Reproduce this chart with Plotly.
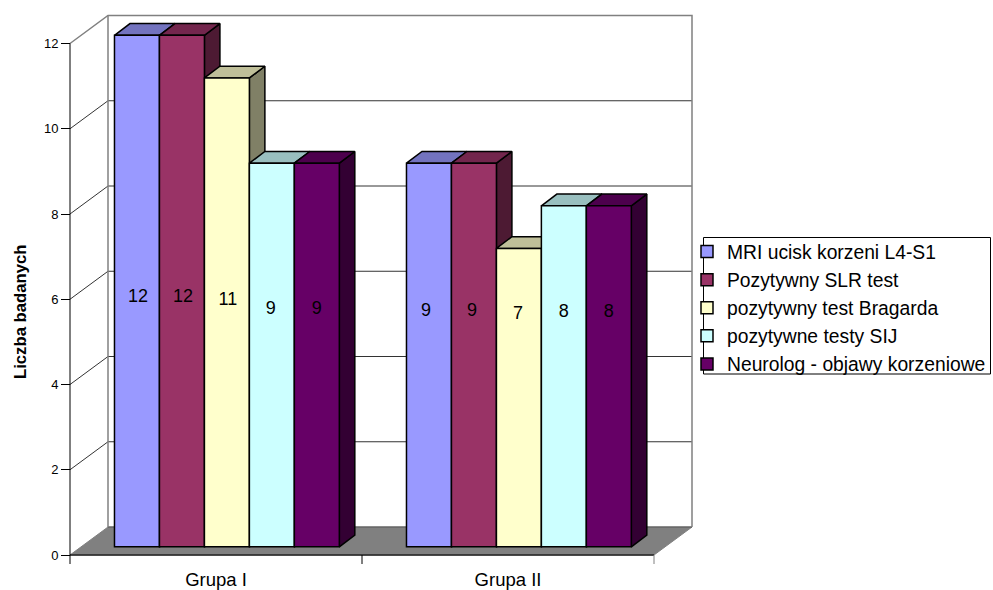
import plotly.graph_objects as go

categories = ["Grupa I", "Grupa II"]
series_names = ["MRI ucisk korzeni L4-S1", "Pozytywny SLR test", "pozytywny test Bragarda",
                "pozytywne testy SIJ", "Neurolog - objawy korzeniowe"]
mri = [12, 9]
slr = [12, 9]
bragard = [11, 7]
sij = [9, 8]
neuro = [9, 8]
y_ticks = [0, 2, 4, 6, 8, 10, 12]

series_values = [mri, slr, bragard, sij, neuro]
front = ["#9999FF", "#993366", "#FFFFCC", "#CCFFFF", "#660066"]
top = ["#7373BF", "#73264D", "#BFBF99", "#99BFBF", "#4D004D"]
side = ["#4D4D80", "#4D1A33", "#808066", "#668080", "#330033"]
# label heights (axis units) and small pixel nudges, as placed in the source chart
label_y = [[6.05, 6.05, 5.98, 5.75, 5.75], [5.72, 5.72, 5.65, 5.7, 5.7]]
label_nudge = [[1, 1, 1, -1, 0], [-3, -2, -1, 0, 0]]

# geometry: plot rectangle and scale
W, H = 993, 590
L, R, T, B = 60, 700, 10, 566
X0, Y0 = 70, 555          # pixel position of the axes' origin
PX_X, PX_Y = 292.0, 511.5 / 12
xr = [(L - X0) / PX_X, (R - X0) / PX_X]
yr = [(Y0 - B) / PX_Y, (Y0 - T) / PX_Y]
wall_dx, wall_dy = 38 / PX_X, 28 / PX_Y      # back wall offset
base_dx, base_dy = 10.9 / PX_X, 8.2 / PX_Y   # bar row offset
bar_dx, bar_dy = 15.5 / PX_X, 11.7 / PX_Y    # bar depth
bargap = 0.23
bw = (1 - bargap) / len(series_values)

fig = go.Figure()
GREY = "#808080"


def seg(xs, ys, color, width=1.0, fill=None):
    fig.add_trace(go.Scatter(x=xs, y=ys, mode="lines", line=dict(color=color, width=width),
                             fill="toself" if fill else None, fillcolor=fill,
                             showlegend=False, hoverinfo="skip"))


# floor
seg([0, 2, 2 + wall_dx, wall_dx, 0], [0, 0, wall_dy, wall_dy, 0], GREY, 1, GREY)
seg([wall_dx, 2 + wall_dx], [wall_dy, wall_dy], "#555555", 1.2)
seg([0, 2], [0, 0], "#222222", 1.5)
# back gridlines and left wall diagonals
for t in y_ticks[1:-1]:
    seg([0, wall_dx, 2 + wall_dx], [t, t + wall_dy, t + wall_dy], "#333333", 1)
# wall frame
seg([0, wall_dx, 2 + wall_dx, 2 + wall_dx], [12, 12 + wall_dy, 12 + wall_dy, wall_dy], GREY, 1.5)
seg([wall_dx, wall_dx], [wall_dy, 12 + wall_dy], GREY, 1.5)
# value axis line
seg([0, 0], [0, 12], "#000000", 1)
# category ticks
tick_len = 9 / PX_Y
for i in range(3):
    seg([i, i], [0, -tick_len], GREY if i == 2 else "#000000", 1)

# top and side faces
for j, vals in enumerate(series_values):
    for g, v in enumerate(vals):
        x0 = g + bargap / 2 + j * bw + base_dx
        x1 = x0 + bw
        h = v + base_dy
        seg([x1, x1 + bar_dx, x1 + bar_dx, x1, x1],
            [h, h + bar_dy, base_dy + bar_dy, base_dy, h], "#000000", 1.5, side[j])
        seg([x0, x1, x1 + bar_dx, x0 + bar_dx, x0],
            [h, h, h + bar_dy, h + bar_dy, h], "#000000", 1.5, top[j])

# front faces (real bars) on an overlay so that they cover the faces behind them
centres = [i + 0.5 + base_dx for i in range(len(categories))]
for j, vals in enumerate(series_values):
    fig.add_trace(go.Bar(x=centres, y=vals, base=base_dy, name=series_names[j],
                         marker=dict(color=front[j], line=dict(color="#000000", width=1.5)),
                         xaxis="x2", yaxis="y2", hoverinfo="skip"))

# data labels
for j, vals in enumerate(series_values):
    xs = [g + bargap / 2 + (j + 0.5) * bw + base_dx + label_nudge[g][j] / PX_X
          for g in range(len(vals))]
    fig.add_trace(go.Scatter(x=xs, y=[label_y[g][j] for g in range(len(vals))], mode="text",
                             text=[str(v) for v in vals], textposition="middle center",
                             textfont=dict(family="Liberation Sans", size=18, color="#000000"),
                             xaxis="x2", yaxis="y2", showlegend=False, hoverinfo="skip"))


def px(x):
    return (x - L) / (R - L)


def py(y):
    return (B - y) / (B - T)


fig.update_layout(
    width=W, height=H, autosize=False,
    margin=dict(l=L, r=W - R, t=T, b=H - B, autoexpand=False),
    paper_bgcolor="#FFFFFF", plot_bgcolor="#FFFFFF",
    font=dict(family="Liberation Sans", color="#000000"),
    barmode="group", bargap=bargap, bargroupgap=0,
    xaxis=dict(range=xr, tickmode="array", tickvals=[0.5, 1.5], ticktext=categories,
               showgrid=False, zeroline=False, showline=False, ticks="",
               tickfont=dict(size=18.5)),
    yaxis=dict(range=yr, tickmode="array", tickvals=y_ticks, showgrid=False, zeroline=False,
               showline=False, ticks="outside", ticklen=9, tickwidth=1, tickcolor="#000000",
               tickfont=dict(size=13), anchor="free", position=px(X0)),
    xaxis2=dict(range=xr, overlaying="x", visible=False),
    yaxis2=dict(range=yr, overlaying="y", visible=False),
    legend=dict(x=px(696), xanchor="left", y=py(232.5), yanchor="top", indentation=-9,
                bgcolor="rgba(0,0,0,0)", borderwidth=0, traceorder="normal",
                font=dict(family="Liberation Sans", size=19.3, color="#000000")),
    shapes=[dict(type="rect", xref="paper", yref="paper", x0=px(703.5), x1=px(990.5),
                 y0=py(374), y1=py(237.5), line=dict(color="#000000", width=1),
                 fillcolor="rgba(0,0,0,0)", layer="above")],
    annotations=[dict(text="<b>Liczba badanych</b>", textangle=-90, xref="paper", yref="paper",
                      x=px(20), y=py(312), xanchor="center", yanchor="middle", showarrow=False,
                      font=dict(family="Liberation Sans", size=16.7, color="#000000"))],
    showlegend=True,
)
shift_swatches = """
document.body.style.margin='0';
document.querySelectorAll('.legend path.legendbar').forEach(function(p){
  p.setAttribute('transform', (p.getAttribute('transform')||'') + ' translate(9,0)');
});
"""
fig.write_html("out.html", config={"displayModeBar": False}, post_script=shift_swatches)
